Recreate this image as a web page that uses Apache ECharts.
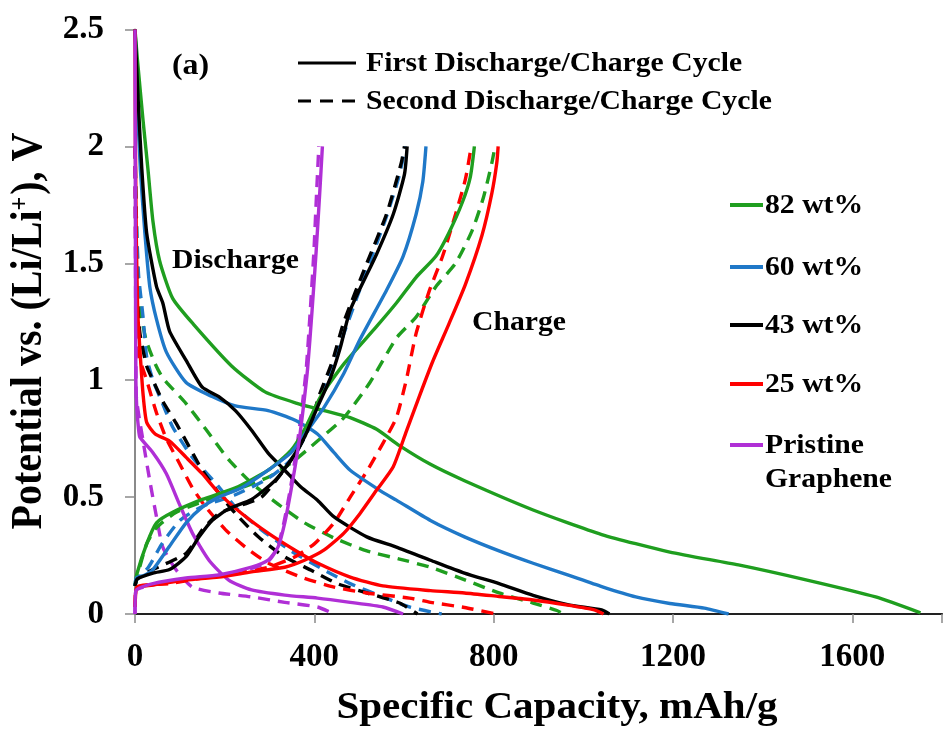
<!DOCTYPE html>
<html>
<head>
<meta charset="utf-8">
<script src="https://cdn.jsdelivr.net/npm/echarts@6/dist/echarts.min.js"></script>
<style>
html,body{margin:0;padding:0;background:#fff;}
#chart{width:945px;height:734px;}
</style>
</head>
<body>
<div id="chart"></div>
<script>
// ---- axis ticks ----
const capTicks = [0, 400, 800, 1200, 1600];
const voltTicks = [0, 0.5, 1, 1.5, 2, 2.5];

// ---- data: [specific capacity (mAh/g), potential (V)] ----
// 82 wt%
const g82_dis1 = [[0,2.5],[5,2.38],[18,2.11],[29,1.9],[40,1.68],[55,1.51],[84,1.35],[130,1.24],[216,1.06],[290,0.95],[363,0.9],[422,0.87],[480,0.84],[539,0.79],[590,0.72],[659,0.64],[735,0.57],[888,0.445],[1041,0.34],[1193,0.265],[1346,0.21],[1499,0.145],[1652,0.073],[1752,0.005]];
const g82_chg1 = [[0,0.12],[4,0.17],[26,0.3],[48,0.39],[84,0.435],[150,0.49],[224,0.54],[297,0.615],[348,0.7],[381,0.8],[414,0.93],[466,1.07],[539,1.23],[583,1.33],[627,1.44],[671,1.53],[700,1.63],[730,1.76],[748,1.87],[757,2.0]];
const g82_dis2 = [[0,2.0],[3,1.7],[6,1.45],[12,1.3],[25,1.17],[45,1.07],[62,1.01],[114,0.9],[158,0.79],[209,0.66],[260,0.56],[319,0.47],[378,0.39],[444,0.325],[517,0.27],[590,0.235],[659,0.2],[737,0.145],[812,0.09],[888,0.047],[941,0.015],[955,0]];
const g82_chg2 = [[0,0.12],[4,0.155],[26,0.3],[48,0.37],[92,0.435],[150,0.48],[224,0.53],[297,0.585],[348,0.645],[407,0.74],[466,0.84],[524,0.99],[583,1.18],[627,1.27],[671,1.4],[715,1.5],[752,1.64],[777,1.78],[796,1.93],[803,2.0]];
// 60 wt%
const b60_dis1 = [[0,2.5],[5,2.2],[12,1.9],[22,1.63],[33,1.4],[48,1.26],[70,1.12],[114,0.99],[172,0.93],[224,0.89],[297,0.87],[356,0.83],[407,0.77],[444,0.69],[480,0.615],[553,0.52],[583,0.487],[659,0.4],[735,0.33],[812,0.27],[888,0.217],[965,0.167],[1041,0.117],[1117,0.073],[1193,0.045],[1270,0.025],[1324,0]];
const b60_chg1 = [[0,0.12],[3,0.155],[20,0.165],[40,0.19],[77,0.29],[114,0.39],[150,0.457],[187,0.5],[238,0.54],[297,0.615],[348,0.69],[385,0.786],[422,0.885],[466,1.03],[502,1.175],[561,1.385],[598,1.53],[627,1.71],[642,1.85],[649,2.0]];
const b60_dis2 = [[0,2.0],[3,1.7],[8,1.45],[18,1.27],[26,1.1],[40,1.0],[55,0.93],[84,0.8],[128,0.67],[180,0.56],[224,0.457],[282,0.36],[348,0.27],[422,0.188],[480,0.13],[553,0.073],[612,0.03],[684,0]];
const b60_chg2 = [[0,0.12],[5,0.15],[30,0.2],[60,0.3],[100,0.4],[150,0.46],[224,0.51],[297,0.58],[348,0.66],[385,0.78],[407,0.9],[440,1.06],[466,1.2],[517,1.47],[561,1.7],[590,1.88],[603,2.0]];
// 43 wt%
const k43_dis1 = [[0,2.5],[7,2.2],[15,1.91],[26,1.63],[48,1.4],[62,1.33],[77,1.21],[114,1.085],[150,0.97],[187,0.93],[224,0.87],[260,0.786],[297,0.688],[334,0.615],[370,0.543],[407,0.487],[444,0.415],[517,0.33],[583,0.286],[659,0.23],[735,0.175],[812,0.13],[888,0.08],[965,0.04],[1041,0.017],[1058,0]];
const k43_chg1 = [[0,0.12],[5,0.15],[40,0.175],[77,0.19],[114,0.245],[143,0.33],[172,0.4],[209,0.45],[260,0.49],[312,0.57],[348,0.66],[378,0.756],[407,0.885],[436,1.01],[458,1.14],[480,1.3],[539,1.54],[576,1.71],[601,1.88],[607,2.0]];
const k43_dis2 = [[0,2.0],[2,1.6],[5,1.35],[11,1.2],[26,1.06],[40,1.0],[62,0.91],[92,0.815],[121,0.715],[150,0.615],[187,0.517],[224,0.43],[275,0.33],[334,0.244],[392,0.188],[451,0.13],[517,0.09],[590,0.047],[630,0]];
const k43_chg2 = [[0,0.12],[5,0.15],[40,0.19],[114,0.26],[150,0.36],[187,0.43],[224,0.457],[282,0.5],[326,0.6],[363,0.7],[392,0.816],[410,0.93],[440,1.08],[466,1.25],[517,1.5],[561,1.71],[594,1.93],[601,2.0]];
// 25 wt%
const r25_dis1 = [[0,2.5],[1,2.0],[3,1.6],[6,1.3],[11,1.13],[18,0.94],[26,0.82],[45,0.77],[77,0.74],[114,0.67],[150,0.6],[187,0.517],[238,0.43],[297,0.346],[356,0.274],[407,0.218],[480,0.158],[553,0.12],[659,0.1],[735,0.09],[812,0.075],[888,0.06],[965,0.038],[1026,0.017],[1045,0]];
const r25_chg1 = [[0,0.03],[2,0.1],[5,0.115],[40,0.124],[114,0.145],[187,0.158],[260,0.18],[334,0.2],[378,0.23],[422,0.274],[466,0.346],[502,0.43],[539,0.53],[576,0.63],[605,0.78],[634,0.93],[664,1.08],[700,1.24],[737,1.41],[774,1.62],[796,1.8],[807,1.93],[810,2.0]];
const r25_dis2 = [[0,2.0],[1,1.7],[2,1.4],[4,1.14],[26,1.0],[48,0.86],[70,0.75],[99,0.645],[128,0.54],[158,0.457],[202,0.36],[246,0.286],[297,0.218],[370,0.158],[444,0.115],[517,0.09],[612,0.068],[659,0.05],[735,0.028],[805,0]];
const r25_chg2 = [[0,0.03],[3,0.115],[77,0.13],[150,0.154],[224,0.175],[297,0.2],[356,0.244],[400,0.3],[444,0.39],[480,0.5],[517,0.61],[553,0.73],[583,0.84],[605,1.0],[627,1.2],[656,1.38],[686,1.53],[715,1.71],[737,1.86],[750,2.0]];
// Pristine graphene
const pg_dis1 = [[0,2.5],[1,1.5],[2,1.0],[4,0.88],[8,0.79],[11,0.756],[40,0.69],[70,0.6],[99,0.47],[128,0.346],[165,0.23],[209,0.145],[260,0.103],[334,0.081],[407,0.068],[480,0.05],[553,0.03],[598,0]];
const pg_chg1 = [[0,0],[2,0.1],[40,0.13],[114,0.154],[187,0.167],[260,0.2],[297,0.23],[319,0.286],[334,0.39],[348,0.53],[363,0.7],[374,0.86],[385,1.05],[395,1.3],[404,1.55],[412,1.8],[418,2.0]];
const pg_dis2 = [[0,2.0],[1,1.5],[2,1.1],[3,0.93],[18,0.74],[33,0.57],[48,0.415],[62,0.286],[92,0.188],[128,0.115],[187,0.09],[260,0.073],[334,0.05],[407,0.03],[444,0]];
const pg_chg2 = [[0,0],[2,0.1],[40,0.125],[114,0.15],[187,0.165],[260,0.195],[297,0.225],[317,0.28],[332,0.39],[346,0.53],[360,0.7],[371,0.86],[382,1.05],[391,1.3],[399,1.55],[405,1.8],[410,2.0]];

const materials = ['82 wt%', '60 wt%', '43 wt%', '25 wt%', 'Pristine Graphene'];
const colors = ['#1f9e1f', '#1f78c8', '#000000', '#ff0000', '#b02fd6'];
const curves = [
  [g82_dis1, g82_chg1, g82_dis2, g82_chg2],
  [b60_dis1, b60_chg1, b60_dis2, b60_chg2],
  [k43_dis1, k43_chg1, k43_dis2, k43_chg2],
  [r25_dis1, r25_chg1, r25_dis2, r25_chg2],
  [pg_dis1, pg_chg1, pg_dis2, pg_chg2]
];
const curveKinds = ['1st discharge', '1st charge', '2nd discharge', '2nd charge'];

const SERIF = '"Liberation Serif","Times New Roman",serif';
const DASH = [12, 8];

const series = [];
// draw dashed (second cycle) first, then solid
[2, 3, 0, 1].forEach(k => {
  curves.forEach((set, m) => {
    series.push({
      name: materials[m] + ' ' + curveKinds[k],
      type: 'line',
      data: set[k],
      showSymbol: false,
      smooth: 0.2,
      clip: true,
      lineStyle: { color: colors[m], width: 3.4, type: k >= 2 ? DASH : 'solid', cap: 'butt', join: 'round' },
      itemStyle: { color: colors[m] },
      z: 3
    });
  });
});

const chart = echarts.init(document.getElementById('chart'), null, { renderer: 'canvas' });

function txt(text, x, y, size, opts) {
  opts = opts || {};
  return {
    type: 'text', x: x, y: y, z: 100,
    scaleX: opts.scaleX || 1.1, scaleY: opts.scaleY || 1,
    rotation: opts.rotation || 0,
    style: {
      text: text,
      font: 'bold ' + size + 'px ' + SERIF,
      fill: '#000',
      textAlign: opts.align || 'left',
      textVerticalAlign: 'middle'
    }
  };
}

const graphic = [
  txt('(a)', 172, 67, 29),
  txt('Discharge', 172, 261, 27),
  txt('Charge', 472, 323, 27),
  { type: 'line', z: 100, shape: { x1: 298, y1: 63, x2: 356, y2: 63 }, style: { stroke: '#000', lineWidth: 3 } },
  { type: 'line', z: 100, shape: { x1: 298, y1: 101, x2: 357, y2: 101 }, style: { stroke: '#000', lineWidth: 3, lineDash: [13, 9] } },
  txt('First Discharge/Charge Cycle', 366, 64, 27),
  txt('Second Discharge/Charge Cycle', 366, 102, 27),
  // axis titles
  txt('Specific Capacity, mAh/g', 557, 708, 38, { align: 'center', scaleX: 1.08 }),
  {
    type: 'text', x: 30, y: 331, z: 100, rotation: Math.PI / 2, scaleX: 1, scaleY: 1.1,
    style: {
      text: '{m|Potential vs. (Li/Li}{s|+}{m|), V}',
      textAlign: 'center', textVerticalAlign: 'middle',
      rich: {
        m: { font: 'bold 40px ' + SERIF, fill: '#000' },
        s: { font: 'bold 24px ' + SERIF, fill: '#000', verticalAlign: 'top', padding: [0, 2, 0, 0] }
      }
    }
  }
];
// right legend
const legendY = [205, 267, 325, 384];
materials.slice(0, 4).forEach((name, i) => {
  graphic.push({ type: 'line', z: 100, shape: { x1: 730, y1: legendY[i], x2: 763, y2: legendY[i] }, style: { stroke: colors[i], lineWidth: 4 } });
  graphic.push(txt(name, 765, legendY[i] + 1, 27));
});
graphic.push({ type: 'line', z: 100, shape: { x1: 730, y1: 445, x2: 763, y2: 445 }, style: { stroke: colors[4], lineWidth: 4 } });
graphic.push(txt('Pristine', 765, 446, 27));
graphic.push(txt('Graphene', 765, 480, 27));

const option = {
  animation: false,
  backgroundColor: '#fff',
  grid: { left: 135, right: -8, top: 29.5, bottom: 120, containLabel: false },
  xAxis: [{
    type: 'value', min: 0, max: 1800, interval: 400,
    axisLine: { show: true, onZero: false, lineStyle: { color: '#8a8a8a', width: 2 } },
    axisTick: { show: true, length: 9, lineStyle: { color: '#8a8a8a', width: 1.5 } },
    splitLine: { show: false },
    axisLabel: {
      margin: 27, color: '#000', fontSize: 33, fontWeight: 'bold', fontFamily: SERIF,
      formatter: v => capTicks.indexOf(v) >= 0 ? String(v) : ''
    }
  }, {
    type: 'value', min: 0, max: 1800, position: 'top',
    axisLine: { show: true, lineStyle: { color: '#222', width: 2 } },
    axisTick: { show: false }, axisLabel: { show: false }, splitLine: { show: false }
  }],
  yAxis: {
    type: 'value', min: 0, max: 2.5, interval: 0.5,
    axisLine: { show: true, onZero: false, lineStyle: { color: '#8a8a8a', width: 2 } },
    axisTick: { show: true, length: 10, lineStyle: { color: '#8a8a8a', width: 1.5 } },
    splitLine: { show: false },
    axisLabel: {
      margin: 31, color: '#000', fontSize: 33, fontWeight: 'bold', fontFamily: SERIF,
      formatter: v => voltTicks.indexOf(v) >= 0 ? String(v) : ''
    }
  },
  series: series,
  graphic: graphic
};
chart.setOption(option);
</script>
</body>
</html>
